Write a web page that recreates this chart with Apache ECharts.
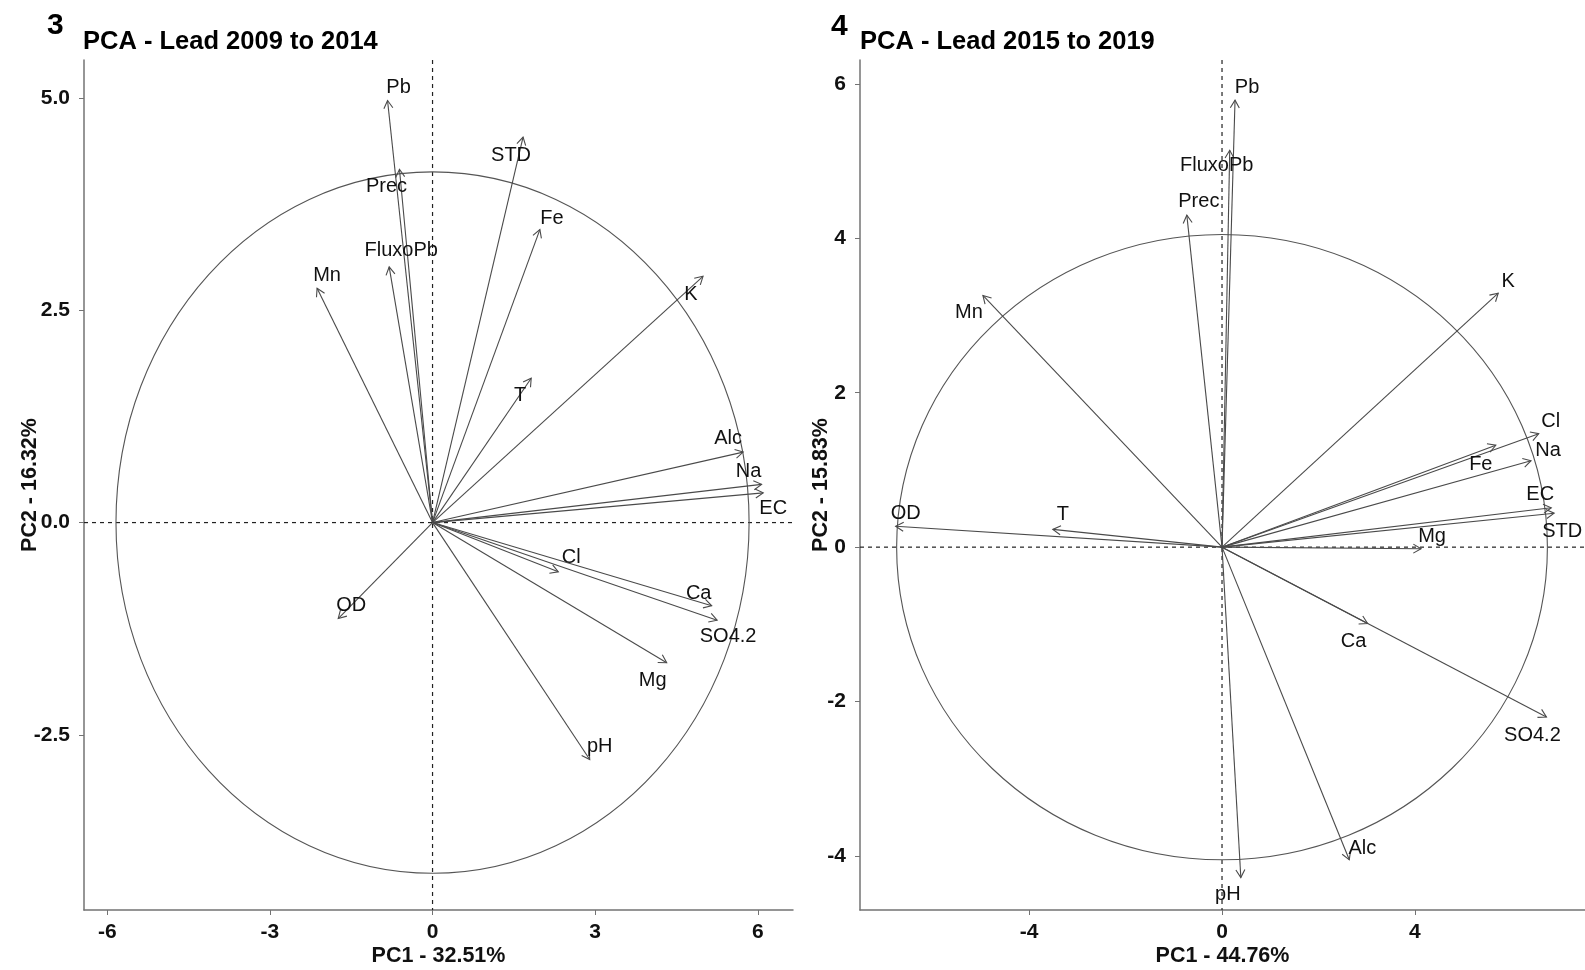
<!DOCTYPE html>
<html>
<head>
<meta charset="utf-8">
<title>PCA - Lead</title>
<script src="https://cdn.jsdelivr.net/npm/echarts@6/dist/echarts.min.js"></script>
<style>
  html, body { margin: 0; padding: 0; background: #ffffff; }
  #chart { width: 1585px; height: 970px; }
</style>
</head>
<body>
<div id="chart"></div>
<script>
// ---- Panel 3: PCA - Lead 2009 to 2014 (variable loadings on PC1 / PC2) ----
const varNames3 = ['Pb', 'Prec', 'FluxoPb', 'Mn', 'STD', 'Fe', 'K', 'T', 'Alc', 'Na', 'EC', 'Cl', 'Ca', 'SO4.2', 'Mg', 'pH', 'OD'];
const pc1_3 = [-0.83, -0.61, -0.80, -2.13, 1.67, 1.98, 4.99, 1.82, 5.73, 6.07, 6.10, 2.32, 5.15, 5.25, 4.32, 2.90, -1.74];
const pc2_3 = [4.97, 4.16, 3.01, 2.76, 4.54, 3.45, 2.90, 1.70, 0.83, 0.45, 0.35, -0.58, -0.98, -1.15, -1.65, -2.79, -1.13];
const circle3 = [5.84, 4.13];            // reference ellipse half-axes (PC1, PC2 units)
const xTicks3 = [-6, -3, 0, 3, 6];
const yTicks3 = [-2.5, 0, 2.5, 5];

// ---- Panel 4: PCA - Lead 2015 to 2019 ----
const varNames4 = ['Pb', 'FluxoPb', 'Prec', 'Mn', 'K', 'Cl', 'Fe', 'Na', 'EC', 'STD', 'Mg', 'Ca', 'SO4.2', 'Alc', 'pH', 'OD', 'T'];
const pc1_4 = [0.27, 0.16, -0.73, -4.96, 5.73, 6.57, 5.68, 6.41, 6.83, 6.89, 4.13, 3.02, 6.73, 2.64, 0.39, -6.77, -3.51];
const pc2_4 = [5.79, 5.14, 4.30, 3.26, 3.29, 1.47, 1.32, 1.12, 0.51, 0.44, -0.02, -0.99, -2.20, -4.05, -4.28, 0.27, 0.23];
const circle4 = [6.75, 4.05];
const xTicks4 = [-4, 0, 4];
const yTicks4 = [-4, -2, 0, 2, 4, 6];

// Label placement next to each arrow tip (pixel offsets, repel-style)
const labelOffsets3 = {
  Pb: [11, -13], Prec: [-13, 17], FluxoPb: [12, -16], Mn: [10, -13], STD: [-12, 18], Fe: [12, -11],
  K: [-12, 18], T: [-11, 17], Alc: [-15, -14], Na: [-13, -13], EC: [10, 16], Cl: [13, -14],
  Ca: [-13, -12], 'SO4.2': [11, 16], Mg: [-14, 18], pH: [10, -13], OD: [13, -13]
};
const labelOffsets4 = {
  Pb: [12, -13], FluxoPb: [-13, 15], Prec: [12, -14], Mn: [-14, 17], K: [10, -12], Cl: [12, -12],
  Fe: [-15, 19], Na: [17, -10], EC: [-11, -13], STD: [8, 18], Mg: [11, -12], Ca: [-14, 18],
  'SO4.2': [-14, 18], Alc: [13, -11], pH: [-13, 17], OD: [10, -13], T: [10, -15]
};

const FONT = '"Liberation Sans", Arial, Helvetica, sans-serif';
const ARROW_COLOR = '#4a4a4a';
const AXIS_COLOR = '#737373';
const TEXT_COLOR = '#111111';

function arrowRenderer(names, offsets) {
  return function (params, api) {
    const o = api.coord([0, 0]);
    const t = api.coord([api.value(0), api.value(1)]);
    const ang = Math.atan2(t[1] - o[1], t[0] - o[0]);
    const L = 9, A = Math.PI / 6;
    const h1 = [t[0] - L * Math.cos(ang - A), t[1] - L * Math.sin(ang - A)];
    const h2 = [t[0] - L * Math.cos(ang + A), t[1] - L * Math.sin(ang + A)];
    const name = names[params.dataIndex];
    const off = offsets[name] || [0, -12];
    return {
      type: 'group',
      children: [
        { type: 'line', shape: { x1: o[0], y1: o[1], x2: t[0], y2: t[1] },
          style: { stroke: ARROW_COLOR, lineWidth: 1.1 } },
        { type: 'polyline', shape: { points: [h1, t, h2] },
          style: { stroke: ARROW_COLOR, lineWidth: 1.1, fill: null } },
        { type: 'text', x: t[0] + off[0], y: t[1] + off[1],
          style: { text: name, fontSize: 20, fontFamily: FONT, fill: TEXT_COLOR,
                   align: 'center', verticalAlign: 'middle' } }
      ]
    };
  };
}

function ellipseRenderer(radii) {
  return function (params, api) {
    const c = api.coord([api.value(0), api.value(1)]);
    const s = api.size([radii[0], radii[1]]);
    return { type: 'ellipse', shape: { cx: c[0], cy: c[1], rx: s[0], ry: s[1] },
             style: { stroke: '#555555', lineWidth: 1.1, fill: null } };
  };
}

function zeroLinesRenderer(params, api) {
  const cs = params.coordSys;
  const o = api.coord([0, 0]);
  const st = { stroke: '#222222', lineWidth: 1.2, lineDash: [4, 4] };
  return {
    type: 'group',
    children: [
      { type: 'line', shape: { x1: cs.x, y1: o[1], x2: cs.x + cs.width, y2: o[1] }, style: st },
      { type: 'line', shape: { x1: o[0], y1: cs.y, x2: o[0], y2: cs.y + cs.height }, style: st }
    ]
  };
}

function valueAxis(gridIndex, min, max, ticks, name, nameGap, labelMargin, fmt) {
  return {
    gridIndex: gridIndex, type: 'value', min: min, max: max,
    axisLine: { show: true, onZero: false, lineStyle: { color: AXIS_COLOR, width: 1.5 } },
    axisTick: { show: true, customValues: ticks, length: 5, lineStyle: { color: AXIS_COLOR, width: 1 } },
    axisLabel: { customValues: ticks, fontSize: 21, fontWeight: 'bold', fontFamily: FONT, color: TEXT_COLOR,
                 margin: labelMargin, formatter: fmt },
    splitLine: { show: false },
    name: name, nameLocation: 'middle', nameGap: nameGap, nameMoveOverlap: false,
    nameTextStyle: { fontSize: 21.5, fontWeight: 'bold', fontFamily: FONT, color: TEXT_COLOR }
  };
}

const fmtOne = v => Number(v).toFixed(1);
const fmtInt = v => String(Math.round(v));

const chart = echarts.init(document.getElementById('chart'), null, { renderer: 'canvas' });

chart.setOption({
  animation: false,
  backgroundColor: '#ffffff',
  grid: [
    { left: 84, top: 60, width: 709, height: 850, containLabel: false, outerBoundsMode: 'none' },
    { left: 860, top: 60, width: 725, height: 850, containLabel: false, outerBoundsMode: 'none' }
  ],
  xAxis: [
    valueAxis(0, -6.43, 6.65, xTicks3, 'PC1 - 32.51%', 35, 12, fmtInt),
    valueAxis(1, -7.51, 7.53, xTicks4, 'PC1 - 44.76%', 35, 12, fmtInt)
  ],
  yAxis: [
    valueAxis(0, -4.562, 5.447, yTicks3, 'PC2 - 16.32%', 43, 14, fmtOne),
    valueAxis(1, -4.70, 6.31, yTicks4, 'PC2 - 15.83%', 28, 14, fmtInt)
  ],
  graphic: [
    { type: 'text', left: 47, top: 11, style: { text: '3', fontSize: 30, fontWeight: 'bold', fontFamily: FONT, fill: '#000' } },
    { type: 'text', left: 83, top: 29, style: { text: 'PCA - Lead 2009 to 2014', fontSize: 25.5, fontWeight: 'bold', fontFamily: FONT, fill: '#000' } },
    { type: 'text', left: 831, top: 12, style: { text: '4', fontSize: 30, fontWeight: 'bold', fontFamily: FONT, fill: '#000' } },
    { type: 'text', left: 860, top: 29, style: { text: 'PCA - Lead 2015 to 2019', fontSize: 25.5, fontWeight: 'bold', fontFamily: FONT, fill: '#000' } }
  ],
  series: [
    { type: 'custom', xAxisIndex: 0, yAxisIndex: 0, data: [[0, 0]], renderItem: zeroLinesRenderer, silent: true, z: 1 },
    { type: 'custom', xAxisIndex: 0, yAxisIndex: 0, data: [[0, 0]], renderItem: ellipseRenderer(circle3), silent: true, z: 2 },
    { type: 'custom', xAxisIndex: 0, yAxisIndex: 0, data: pc1_3.map((v, i) => [v, pc2_3[i]]),
      renderItem: arrowRenderer(varNames3, labelOffsets3), silent: true, z: 3 },
    { type: 'custom', xAxisIndex: 1, yAxisIndex: 1, data: [[0, 0]], renderItem: zeroLinesRenderer, silent: true, z: 1 },
    { type: 'custom', xAxisIndex: 1, yAxisIndex: 1, data: [[0, 0]], renderItem: ellipseRenderer(circle4), silent: true, z: 2 },
    { type: 'custom', xAxisIndex: 1, yAxisIndex: 1, data: pc1_4.map((v, i) => [v, pc2_4[i]]),
      renderItem: arrowRenderer(varNames4, labelOffsets4), silent: true, z: 3 }
  ]
});
</script>
</body>
</html>
